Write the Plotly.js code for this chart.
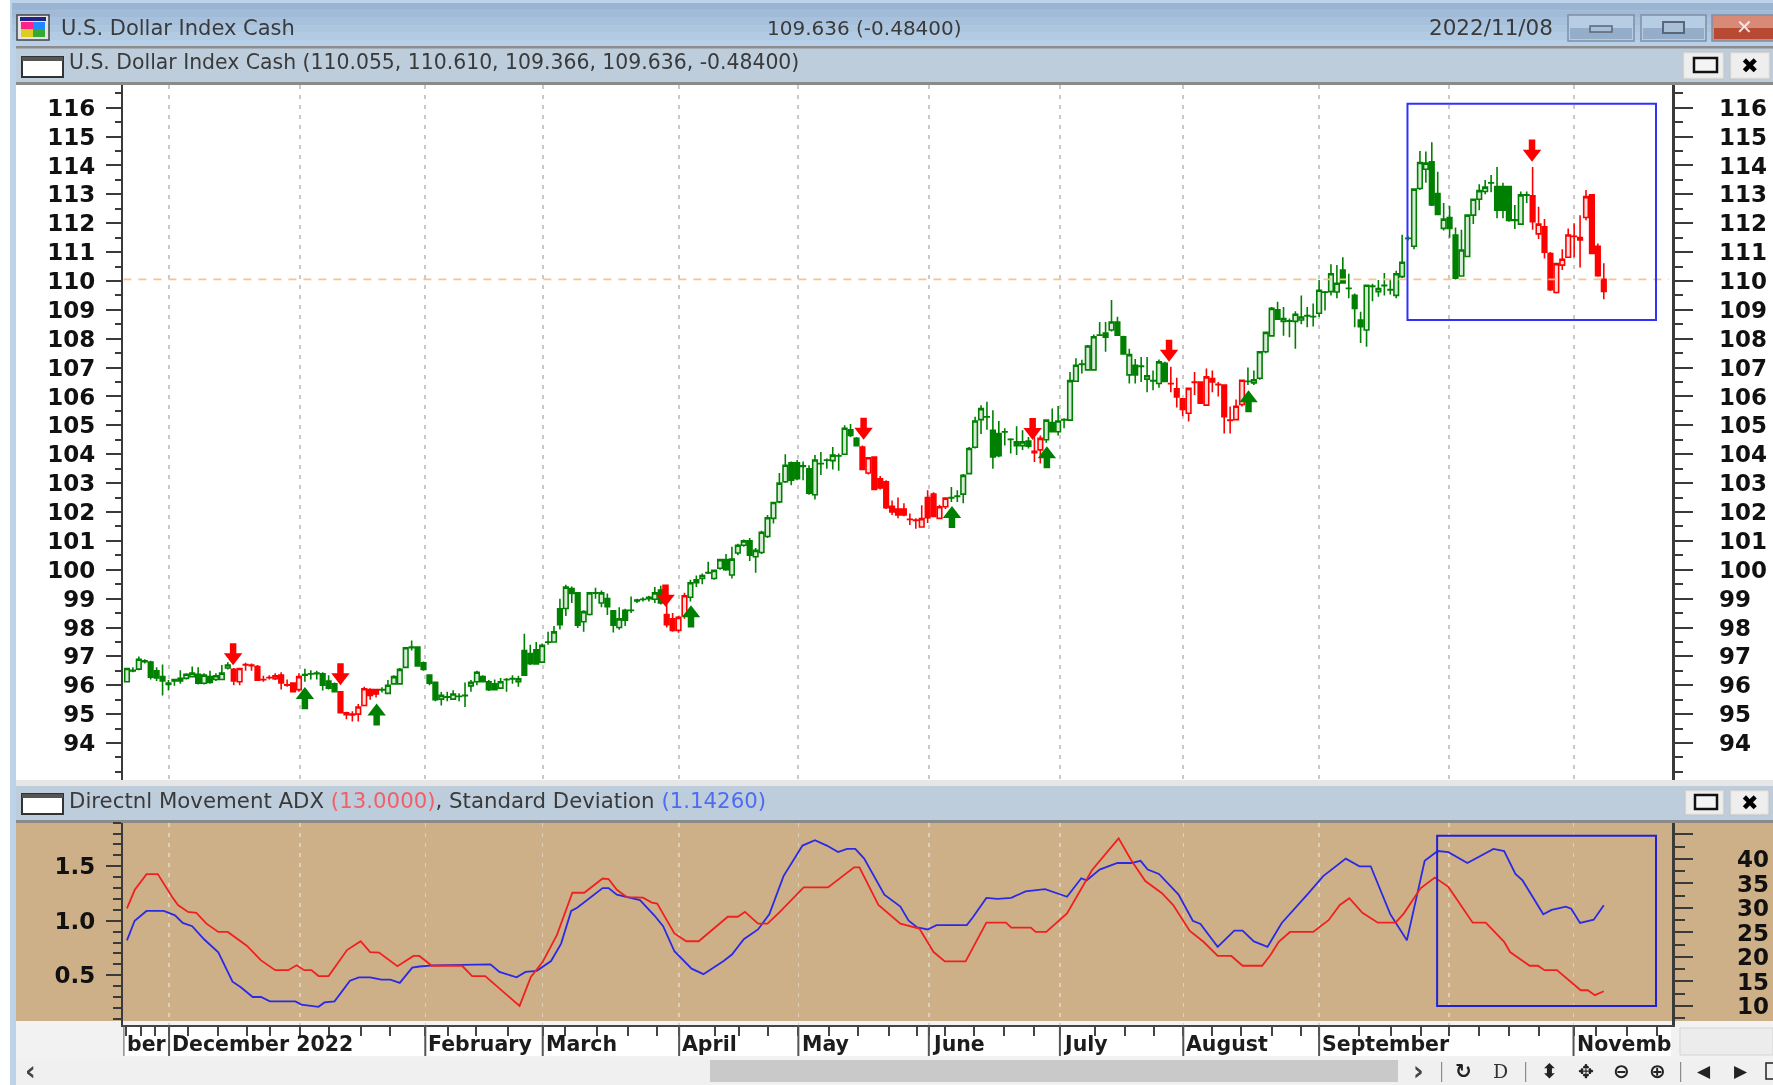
<!DOCTYPE html>
<html>
<head>
<meta charset="utf-8">
<script src="https://cdn.plot.ly/plotly-3.0.1.min.js"></script>
<style>html,body{margin:0;padding:0;background:#fff;overflow:hidden}#chart{width:1773px;height:1085px;filter:blur(0.6px)}</style>
</head>
<body>
<div id="chart"></div>
<script>
// ---- price bars, one per session ----
const opens = [
96.12,96.52,96.56,96.85,96.8,96.5,96.3,96.08,96.15,96.15,
96.24,96.3,96.38,96.07,96.3,96.2,96.2,96.6,96.55,96.12,
96.72,96.7,96.65,96.2,96.27,96.23,96.35,96.02,96.08,95.85,
96.37,96.4,96.4,96.4,96.15,96.05,95.77,95.05,95.0,95.0,
95.3,95.85,95.85,95.85,95.72,96.05,96.05,96.62,97.32,97.32,
96.78,96.35,96.1,95.52,95.6,95.52,95.62,95.65,95.98,96.12,
96.3,96.12,96.05,95.9,96.2,96.22,96.12,97.2,97.1,97.23,
96.8,97.5,97.5,98.65,98.66,99.35,99.2,98.2,98.45,99.2,
98.85,99.0,98.58,98.0,98.6,98.6,98.92,98.98,99.0,98.98,
99.3,98.45,98.3,97.9,98.4,99.05,99.65,99.7,99.9,99.7,
100.05,100.35,99.82,100.58,100.85,101.0,100.45,100.6,101.15,101.78,
102.35,103.05,103.7,103.7,103.6,103.5,102.6,103.68,103.8,103.78,
103.95,104.0,104.85,104.55,104.25,103.35,103.9,103.15,103.05,102.2,
102.1,102.1,101.75,101.72,101.48,102.5,102.62,101.78,102.18,102.5,
102.55,102.62,103.33,104.24,105.2,105.3,104.83,104.72,104.78,104.52,
104.43,104.3,104.46,104.1,104.15,104.5,105.1,104.78,105.2,105.18,
106.53,107.12,106.92,106.92,108.13,108.2,108.3,108.58,108.07,106.75,
107.08,107.05,106.6,106.55,106.45,107.15,106.45,106.27,105.92,105.42,
106.5,106.5,105.7,106.62,106.42,106.4,105.18,105.2,105.72,106.53,
106.47,106.63,107.55,108.1,109.0,108.6,108.62,108.6,108.65,108.8,
108.77,108.88,109.62,109.63,109.62,110.38,109.75,109.5,108.65,108.3,
109.82,109.63,109.85,109.7,109.5,110.15,111.48,111.2,113.2,113.87,
114.13,113.03,111.82,112.2,111.59,110.17,110.85,112.28,112.83,113.1,
113.4,113.27,113.27,113.27,112.1,111.97,112.98,112.95,111.63,111.88,
110.95,109.6,110.55,110.82,111.55,111.5,112.2,112.98,111.2,110.055];
const highs = [
96.6,96.62,97.0,96.9,96.85,96.62,96.72,96.18,96.22,96.52,
96.42,96.65,96.62,96.42,96.5,96.42,96.7,96.8,96.6,96.61,
96.78,96.75,96.7,96.33,96.35,96.42,96.45,96.2,96.1,96.42,
96.57,96.52,96.5,96.45,96.35,96.1,95.8,95.08,95.1,95.35,
95.95,95.9,95.88,95.93,96.18,96.35,96.6,97.32,97.55,97.35,
96.82,96.38,96.12,95.77,95.78,95.83,95.72,96.1,96.18,96.5,
96.35,96.18,96.2,96.25,96.25,96.35,96.33,97.78,97.4,97.5,
97.45,97.85,98.05,99.0,99.48,99.42,99.22,98.6,99.2,99.38,
99.28,99.18,98.6,98.7,98.65,99.07,99.0,99.05,99.1,99.4,
99.45,99.0,98.5,98.4,99.2,99.65,99.8,99.87,100.28,100.0,
100.37,100.55,100.8,100.9,101.05,101.1,100.75,101.35,101.9,102.35,
103.35,104.0,103.75,103.8,103.75,103.62,103.97,104.08,103.85,104.25,
104.03,105.0,105.05,104.6,104.3,103.9,103.92,103.25,103.1,102.4,
102.5,102.3,101.95,101.78,102.23,102.75,102.68,102.25,102.5,102.87,
102.75,103.32,104.25,105.3,105.7,105.82,105.52,105.15,104.9,104.55,
104.97,104.83,104.6,104.6,104.65,105.2,105.58,105.67,105.25,106.85,
107.32,107.27,107.78,108.15,108.58,108.58,109.34,108.76,108.1,107.65,
107.3,107.37,107.37,106.9,107.28,107.2,107.03,106.65,105.95,106.3,
106.85,106.52,106.97,106.9,106.5,106.42,105.65,105.9,106.57,107.0,
106.9,107.55,108.25,109.1,109.28,109.1,108.7,108.95,109.5,109.1,
109.22,110.03,109.65,110.58,110.55,110.82,110.25,109.57,108.93,109.87,
109.9,110.03,110.28,110.05,110.35,111.6,111.55,113.2,114.5,114.48,
114.8,113.78,112.7,112.6,111.85,111.77,112.3,112.85,113.35,113.5,
113.67,113.95,113.4,113.3,112.63,113.1,113.1,113.95,112.57,112.15,
111.0,110.6,111.1,111.82,112.0,112.28,113.15,113.0,111.3,110.61];
const lows = [
96.1,96.45,96.52,96.75,96.2,96.15,95.65,95.82,95.98,96.05,
96.2,96.27,96.03,96.03,96.05,96.15,96.18,96.55,96.0,96.0,
96.5,96.5,96.15,96.12,96.2,96.18,95.85,95.95,95.75,95.78,
96.12,96.2,96.2,95.82,95.85,95.75,95.02,94.82,94.75,94.75,
95.28,95.5,95.58,95.75,95.7,96.03,96.03,96.6,97.2,96.65,
96.5,96.0,95.45,95.3,95.45,95.5,95.45,95.25,95.78,96.0,
96.1,95.8,95.83,95.88,95.78,96.05,95.95,96.33,96.7,96.72,
96.78,97.4,97.48,97.93,98.4,98.85,97.98,97.85,98.42,99.0,
98.7,98.43,97.83,97.92,98.05,98.5,98.85,98.9,98.9,98.85,
98.8,98.0,97.85,97.82,98.3,98.9,99.4,99.5,99.85,99.65,
100.0,99.97,99.7,100.5,100.8,100.3,99.9,100.55,101.1,101.6,
102.3,103.0,102.93,103.1,103.1,102.6,102.43,103.28,103.5,103.47,
103.43,103.98,104.6,104.27,103.45,103.3,102.75,102.78,102.1,101.9,
101.78,101.85,101.55,101.42,101.46,101.62,101.82,101.75,102.1,102.35,
102.35,102.3,103.3,104.2,104.7,104.85,103.5,103.9,104.3,104.03,
103.97,104.15,104.2,103.73,103.68,104.4,104.75,104.65,104.9,105.15,
106.5,106.8,106.9,106.9,108.1,107.55,108.25,108.1,107.45,106.45,
106.45,106.5,106.15,106.22,106.3,106.5,106.15,105.62,105.32,105.13,
106.05,105.75,105.68,106.15,106.0,104.72,104.72,105.18,105.65,106.4,
106.4,106.58,107.5,108.08,108.65,108.1,108.05,107.65,108.5,108.4,
108.42,108.75,108.98,109.5,109.4,109.9,109.4,108.4,107.85,107.72,
109.3,109.45,109.5,109.53,109.4,110.1,111.4,111.1,113.15,113.4,
112.6,112.28,111.75,111.5,110.05,110.15,110.85,111.97,112.45,113.0,
113.07,112.17,112.17,112.05,111.8,111.95,112.7,111.77,111.45,110.78,
109.65,109.57,110.38,110.8,110.82,110.47,112.1,110.93,110.15,109.366];
const closes = [
96.58,96.5,96.9,96.82,96.28,96.25,96.15,96.03,96.2,96.24,
96.38,96.42,96.07,96.35,96.1,96.33,96.42,96.7,96.15,96.58,
96.7,96.68,96.18,96.19,96.26,96.33,96.08,96.0,95.78,96.3,
96.35,96.39,96.42,96.0,95.9,95.78,95.05,94.98,94.97,95.25,
95.88,95.65,95.7,95.84,96.0,96.3,96.55,97.3,97.3,96.67,
96.55,96.07,95.5,95.65,95.59,95.7,95.61,95.64,96.1,96.45,
96.12,95.85,95.85,96.12,96.19,96.23,96.22,96.35,96.75,96.74,
97.38,97.49,97.85,98.1,99.4,99.18,98.08,98.55,99.2,99.19,
99.2,98.72,98.08,98.3,98.25,98.59,98.95,98.97,99.05,99.2,
98.85,98.1,97.9,98.35,99.1,99.55,99.55,99.8,99.89,99.98,
100.35,100.0,100.37,100.85,101.0,100.5,100.67,101.3,101.8,102.33,
103.0,103.62,103.1,103.15,103.58,102.65,103.8,103.67,103.79,103.97,
103.94,104.9,104.65,104.3,103.47,103.88,102.78,102.83,102.15,102.0,
101.9,101.9,101.74,101.71,101.77,101.8,101.85,102.18,102.48,102.49,
102.54,103.27,104.2,105.15,105.58,105.29,103.91,103.95,104.77,104.51,
104.3,104.43,104.28,104.05,104.55,105.18,104.78,105.15,105.19,106.55,
107.08,107.11,107.75,108.07,108.12,108.05,108.58,108.12,107.47,107.45,
106.75,107.04,106.72,106.54,107.2,106.52,106.44,105.98,105.55,106.28,
106.49,105.77,106.68,106.5,106.41,105.3,105.17,105.66,106.56,106.52,
106.58,107.55,108.22,109.05,108.68,108.7,108.61,108.85,108.75,108.79,
108.76,109.68,109.61,110.25,109.92,109.93,109.74,109.05,108.42,109.85,
109.81,109.74,109.84,109.69,110.25,110.65,111.47,113.18,114.1,114.08,
112.63,112.3,112.14,111.82,110.1,111.07,112.28,112.83,113.13,113.25,
113.39,112.45,112.45,112.1,112.12,112.98,112.97,112.05,111.97,111.0,
109.7,110.6,110.75,111.59,111.54,111.42,112.92,110.95,110.18,109.636];
const redFrom = [18,36,91,124,153,176,237];
const redTo   = [29,42,94,138,154,188,249];

// ---- signal arrows: session and price of the arrow tip ----
const sellX = [17.9,36,90.8,124.2,152.7,175.7,236.9];
const sellY = [96.69,96.0,98.72,104.5,104.49,107.2,114.13];
const buyX  = [30,42.1,95.1,139.1,155.1,189.1];
const buyY  = [95.94,95.37,98.77,102.21,104.28,106.22];

// ---- lower panel ----
const adxX = [0,1.3,3.3,5.2,7.6,8.6,10.3,11.7,13.4,15.4,17,20.2,22.6,25,27.2,28.6,29.9,31.1,32.3,34,37.1,39.4,41,42.5,45.6,48.3,49.3,51.4,56.5,58.2,60.4,62.8,66.2,68.1,70.1,72.5,75.1,77.1,80.2,81.2,82.6,84.3,87,88.5,89.4,92.3,94.3,96.4,101.3,103,104.2,106.4,108,110,111.7,114.1,118.2,122.6,123.5,126.7,130.4,133.6,136,137.9,141.4,144.9,148.2,149.1,152.4,153.2,155,158.5,162.7,167.2,169.3,171.7,174.5,176.4,179.2,181.5,183.9,186.2,188.1,191.4,192.8,194.2,196.1,200,202.6,204.5,206.1,208.3,210.9,213.9,215.3,218.1,220.5,222.8,226.9,229.1,232.2,233.2,236.5,237.9,239,241.1,245.1,246.3,247.5,249];
const adxY = [29.9,33.65,36.9,36.9,32.3,30.6,29.2,29,26.8,25.1,25.1,22.3,19.3,17.3,17.3,18.3,17.3,17.3,16.1,16.1,21.4,23.2,21,20.9,18.1,20.2,20.2,18.2,18.2,16.1,16.1,13.5,10,15.9,19,24.5,33.1,33.1,36,35.9,33.7,32.2,32.1,31.1,30.9,24.8,23.2,23.2,28.2,28.2,29.2,26.8,26.8,29.1,31.3,34.2,34.2,38.3,38.3,30.6,26.8,25.8,21,19.1,19.1,27,27,26,26,25.1,25.1,28.9,37.7,44.2,39.8,35.5,33,30.6,25.3,23.1,20.2,20.2,18.2,18.2,20.4,23.1,25.1,25.1,27.5,30.6,32,29,27,27,28.9,34,36.2,34.3,27,27,23.1,21,18.2,18.2,17.3,17.3,13.2,13.2,12.2,13];
const sdX = [0,1.3,3.3,6.2,8.1,9.4,11,13,15.4,17,17.8,19.2,21.2,22.6,24.1,28.4,29.4,32.3,33.3,35,37.6,39.1,41,42.9,44.4,46,48.1,49.3,51.7,61.3,62.8,65.7,67.2,69.1,71.5,73.2,74.9,75.9,80.2,81.2,82.6,86.5,88.9,90.4,92.3,95.2,97.2,100.6,102,104,106.4,108.3,110.7,113.9,116,118,119.9,121.4,122.8,124.3,127.7,130.4,131.8,133.2,135,136.5,141.6,142.6,144.9,146.8,149.1,151.5,154.8,158.5,160.9,161.8,164,167,169.3,170.9,172.1,174,177.3,179.7,181,183.9,186.7,188.1,190,192.3,194.7,199,201.7,205.5,207.8,209.7,213,215.8,218.8,221,222.8,226,230.4,232.2,234.1,235.3,238.8,240.2,242.6,243.5,245,247.3,249];
const sdY = [0.82,1,1.09,1.09,1.05,0.98,0.95,0.83,0.71,0.54,0.44,0.39,0.3,0.3,0.26,0.26,0.23,0.21,0.25,0.26,0.45,0.48,0.48,0.46,0.46,0.43,0.57,0.58,0.59,0.6,0.53,0.48,0.53,0.54,0.63,0.79,1.09,1.12,1.3,1.3,1.24,1.19,1.05,0.95,0.72,0.56,0.51,0.63,0.69,0.83,0.92,1.06,1.41,1.69,1.74,1.69,1.63,1.66,1.66,1.57,1.24,1.13,1,0.94,0.92,0.96,0.96,1.03,1.21,1.2,1.21,1.27,1.29,1.22,1.39,1.37,1.47,1.53,1.53,1.55,1.47,1.43,1.24,1,0.97,0.76,0.91,0.91,0.81,0.76,0.98,1.24,1.41,1.57,1.5,1.5,1.06,0.82,1.55,1.64,1.63,1.53,1.66,1.64,1.43,1.37,1.06,1.1,1.13,1.11,0.98,1.01,1.1426];

// ---- axes ----
const gridAt = [7.1,29.2,50.3,70.1,93.1,113.2,135.2,157.3,178.1,201,222.9,243.9];
const weekTicks = [-0.1,2.3,4.7,10.3,15.4,20.2,24.1,34,39.4,44.4,54.1,58.9,64.3,73.9,79.3,84.4,89.4,99.1,103.2,108,118.3,123.3,128.4,133.2,137.9,142.8,147.9,152.9,163.2,168.2,173.1,182.9,187.9,193,198,207.8,213.2,218.1,228,233,238,247.7,252.9,258];
const monthAt = [-0.6,7.1,50.3,70.1,93.1,113.2,135.2,157.3,178.1,201,243.9];
const monthNames = ['ber','December 2022','February','March','April','May','June','July','August','September','Novemb'];
const priceTicks = [94,95,96,97,98,99,100,101,102,103,104,105,106,107,108,109,110,111,112,113,114,115,116];
const sdTicks = [0.5,1.0,1.5];
const sdLabels = ['0.5','1.0','1.5'];
const adxTicks = [10,15,20,25,30,35,40,45];
const adxLabels = ['10','15','20','25','30','35','40',''];

const W=1773,H=1085;
const GREEN='#008000', RED='#ff0000', BLUE='#2626e8', INK='#222222';
const UI='"DejaVu Sans",sans-serif';

// bars by regime
const isRed=i=>redFrom.some((a,k)=>i>=a&&i<=redTo[k]);
const idx=opens.map((_,i)=>i);
function candle(filter,col,hollow){
  const ii=idx.filter(filter);
  return {type:'candlestick',x:ii,open:ii.map(i=>opens[i]),high:ii.map(i=>highs[i]),low:ii.map(i=>lows[i]),close:ii.map(i=>closes[i]),
    xaxis:'x',yaxis:'y',whiskerwidth:0,hoverinfo:'skip',showlegend:false,
    increasing:{line:{color:col,width:1.6},fillcolor:hollow},
    decreasing:{line:{color:col,width:1.6},fillcolor:col}};
}
const traces=[
  candle(i=>!isRed(i),GREEN,'#d9ead9'),
  candle(isRed,RED,'#ffe0e0'),
  {type:'scatter',mode:'lines',x:[-0.6,260],y:[opens[249],opens[249]],xaxis:'x',yaxis:'y2',line:{color:'#f7c48e',width:1.6,dash:'8px,7px'},hoverinfo:'skip',showlegend:false},
  // arrows: stem + head, tip at the stored price
  {type:'scatter',mode:'markers',x:sellX,y:sellY.map(v=>v+0.5),xaxis:'x',yaxis:'y',marker:{symbol:'line-ns',size:11,line:{color:RED,width:6.5}},hoverinfo:'skip',showlegend:false},
  {type:'scatter',mode:'markers',x:sellX,y:sellY.map(v=>v+0.277),xaxis:'x',yaxis:'y',marker:{symbol:'triangle-down',size:16,color:RED,line:{width:0}},hoverinfo:'skip',showlegend:false},
  {type:'scatter',mode:'markers',x:buyX,y:buyY.map(v=>v-0.5),xaxis:'x',yaxis:'y',marker:{symbol:'line-ns',size:11,line:{color:GREEN,width:6.5}},hoverinfo:'skip',showlegend:false},
  {type:'scatter',mode:'markers',x:buyX,y:buyY.map(v=>v-0.277),xaxis:'x',yaxis:'y',marker:{symbol:'triangle-up',size:16,color:GREEN,line:{width:0}},hoverinfo:'skip',showlegend:false},
  {type:'scatter',mode:'lines',x:adxX,y:adxY,xaxis:'x2',yaxis:'y4',line:{color:'#f02020',width:1.8},hoverinfo:'skip',showlegend:false},
  {type:'scatter',mode:'lines',x:sdX,y:sdY,xaxis:'x2',yaxis:'y3',line:{color:'#2a2ae6',width:1.8},hoverinfo:'skip',showlegend:false}
];

// window furniture helpers (pixels -> paper)
const px=x=>x/W, py=y=>1-y/H;
const shapes=[];
function rect(x0,y0,x1,y1,fill,line,lw,layer){
  shapes.push({type:'rect',xref:'paper',yref:'paper',x0:px(x0),x1:px(x1),y0:py(y1),y1:py(y0),fillcolor:fill,layer:layer||'below',
    line:line?{color:line,width:lw||1}:{width:0}});
}
const notes=[];
function txt(x,y,s,size,color,opt){
  opt=opt||{};
  notes.push({xref:'paper',yref:'paper',x:px(x),y:py(y),text:s,showarrow:false,xanchor:opt.a||'left',yanchor:'middle',
    font:{family:opt.f||UI,size:size,color:color||'#3a3a3a',weight:opt.w||400}});
}
function button(x0,y0,x1,y1,glyph){
  rect(x0,y0,x1,y1,'#e8e8e8','#c4c4c4',1);
  rect(x0+2,y0+2,x1-2,y1-2,'#eeeeee');
  glyph();
}
function winIcon(x,y){
  rect(x,y,x+41,y+20,'#ffffff','#333333',2);
  rect(x,y,x+41,y+4,'#555555');
}

// outer frame
rect(10,0,1773,1085,'#bcd3ea');
const bar=['#9ab4d2','#a0bad7','#a7c0dc','#adc6e0','#b2cbe4','#b7cfe7'];
bar.forEach((c,k)=>rect(12,3+k*7.4,1773,3+(k+1)*7.4,c));
// panel strips
rect(16,47,1773,85,'#bdcddc');
rect(16,46,1773,48.5,'#8c8c8c');
rect(16,82,1773,85,'#8a8a8a');
rect(16,85,1773,780,'#ffffff');
rect(16,780,1773,786,'#e6e6e6');
rect(16,786,1773,820,'#bdcddc');
rect(16,820,1773,823,'#8a8a8a');
rect(16,823,1773,1021,'#ceb088');
rect(16,1021,1773,1060,'#f2f2f2');
rect(123,1025,1671,1056,'#ffffff');
rect(1680,1028,1773,1055,'#ececec','#d4d4d4',1);
rect(16,1060,1773,1085,'#f0f0f0');
rect(710,1060,1398,1082,'#c9c9c9');
// title bar buttons
function capsule(x0,x1,c0,c1){rect(x0,15,x1,41,c0,'#7f8fa3',1.5);rect(x0+2,28,x1-2,39,c1);}
capsule(1568,1634,'#b7cde4','#94aeca');
capsule(1641,1706,'#b7cde4','#94aeca');
capsule(1712,1775,'#d98a76','#b84a33');
rect(1590,26,1612,32,'#a9bfd6','#58677a',1.5);
rect(1663,22,1684,33,'#a9bfd6','#58677a',2);
txt(1744,27,'✕',20,'#e8e8e8',{a:'center',w:700});
// app icon
rect(17,15,49,40,'#e4e4e4','#444444',1.5);
rect(20,17,46,21,'#222288');
rect(21,22,33,29,'#ff2288');rect(33,22,45,29,'#2288ff');
rect(21,29,33,37,'#ddcc22');rect(33,29,45,37,'#33aa33');
// panel buttons
button(1683,52,1724,79,()=>rect(1694,58,1717,72,'#f4f4f4','#111111',2.5));
button(1730,52,1770,79,()=>txt(1750,66,'✖',21,'#000000',{a:'center'}));
button(1685,790,1724,815,()=>rect(1695,795,1717,809,'#f4f4f4','#111111',2.5));
button(1730,790,1769,815,()=>txt(1750,803,'✖',21,'#000000',{a:'center'}));
winIcon(22,57); winIcon(22,794);
// titles
txt(59,28,'U.S. Dollar Index Cash',21,'#3a3a3a');
txt(765,28,'109.636 (-0.48400)',20,'#3a3a3a');
txt(1427,28,'2022/11/08',21.5,'#3a3a3a');
txt(67,62,'U.S. Dollar Index Cash (110.055, 110.610, 109.366, 109.636, -0.48400)',20.4,'#3a3a3a');
txt(67,800,'Directnl Movement ADX <span style="color:#f0606a">(13.0000)</span>, Standard Deviation <span style="color:#4f6cf0">(1.14260)</span>',21.3,'#3a3a3a');
// scrollbar and toolbar glyphs
txt(30,1071,'‹',26,'#444444',{a:'center',w:700});
txt(1418,1071,'›',26,'#444444',{a:'center',w:700});
[1441,1525,1680].forEach(x=>rect(x,1062,x+1.2,1082,'#8a8a8a'));
[[1463,'↻',20],[1549,'⬍',20],[1586,'✥',19],[1621,'⊖',20],[1657,'⊕',20],[1704,'◀',17],[1741,'▶',17]].forEach(g=>txt(g[0],1071,g[1],g[2],'#222222',{a:'center',w:700}));
txt(1500,1071,'D',19,'#333333',{a:'center',f:'"DejaVu Serif",serif'});
rect(1766,1063,1776,1079,'#f0f0f0','#222222',1.5);

// month names and their long separators, placed on the bar scale
monthNames.forEach((m,k)=>{
  notes.push({xref:'x2',yref:'paper',x:monthAt[k]+0.2,y:py(1044),text:m,showarrow:false,xanchor:'left',yanchor:'middle',
    font:{family:UI,size:20.5,color:'#1c1c1c',weight:700}});
  shapes.push({type:'line',xref:'x2',yref:'paper',x0:monthAt[k],x1:monthAt[k],y0:py(1056),y1:py(1025),line:{color:'#555555',width:2},layer:'above'});
});
// boxes
shapes.push({type:'rect',xref:'x',yref:'y',x0:215.9,x1:257.8,y0:108.65,y1:116.14,line:{color:'#3030ff',width:2},layer:'above'});
shapes.push({type:'rect',xref:'x2',yref:'y4',x0:220.9,x1:257.8,y0:10,y1:44.76,line:{color:'#2020d8',width:2},layer:'above'});

const xDom=[123.4/W,1672/W];
const tickFont={family:UI,size:23,color:'#111111',weight:700};
const axBase={showgrid:false,zeroline:false,showline:true,linecolor:'#3a3a3a',linewidth:2.5,tickcolor:'#3a3a3a',tickwidth:2,ticks:'outside',tickfont:tickFont,fixedrange:true};
const layout={
  width:W,height:H,autosize:false,margin:{l:0,r:0,t:0,b:0,pad:0},
  paper_bgcolor:'#ffffff',plot_bgcolor:'rgba(0,0,0,0)',showlegend:false,hovermode:false,
  xaxis:{domain:xDom,range:[-0.6,260.5],anchor:'y',tickmode:'array',tickvals:gridAt,ticktext:gridAt.map(()=>''),ticks:'',showline:false,showgrid:true,gridcolor:'#c9c9c9',gridwidth:2,griddash:'4px,6px',zeroline:false,rangeslider:{visible:false},fixedrange:true},
  xaxis2:{domain:xDom,range:[-0.6,260.5],anchor:'y3',tickmode:'array',tickvals:gridAt,ticktext:gridAt.map(()=>''),ticks:'outside',ticklen:9,tickwidth:2,tickcolor:'#444444',showline:true,linecolor:'#444444',linewidth:2,showgrid:true,gridcolor:'#dcd0ba',gridwidth:1.5,griddash:'4px,6px',zeroline:false,
    minor:{tickmode:'array',tickvals:weekTicks,ticks:'outside',ticklen:9,tickwidth:2,tickcolor:'#444444',showgrid:false},fixedrange:true},
  yaxis:Object.assign({},axBase,{domain:[py(780),py(85)],range:[92.72,116.786],anchor:'x',side:'left',tickmode:'array',tickvals:priceTicks,ticktext:priceTicks.map(String),ticklen:15,ticklabelstandoff:6,
    minor:{dtick:0.5,ticks:'outside',ticklen:6,tickwidth:2,tickcolor:'#3a3a3a',showgrid:false}}),
  yaxis2:Object.assign({},axBase,{domain:[py(780),py(85)],range:[92.72,116.786],anchor:'x',side:'right',overlaying:'y',tickmode:'array',tickvals:priceTicks,ticktext:priceTicks.map(String),ticklen:18,ticklabelstandoff:22,
    minor:{dtick:0.5,ticks:'outside',ticklen:8,tickwidth:2,tickcolor:'#3a3a3a',showgrid:false}}),
  yaxis3:Object.assign({},axBase,{domain:[py(1025),py(822.7)],range:[0.043,1.9],anchor:'x2',side:'left',tickmode:'array',tickvals:sdTicks,ticktext:sdLabels,ticklen:15,ticklabelstandoff:6,
    minor:{dtick:0.1,ticks:'outside',ticklen:8,tickwidth:2,tickcolor:'#3a3a3a',showgrid:false}}),
  yaxis4:Object.assign({},axBase,{domain:[py(1025),py(822.7)],range:[6.11,47.4],anchor:'x2',side:'right',overlaying:'y3',tickmode:'array',tickvals:adxTicks,ticktext:adxLabels,ticklen:18,ticklabelstandoff:40,
    minor:{dtick:2.5,ticks:'outside',ticklen:10,tickwidth:2,tickcolor:'#3a3a3a',showgrid:false}}),
  boxgap:0.12,boxgroupgap:0.12,
  shapes:shapes,annotations:notes
};
Plotly.newPlot('chart',traces,layout,{displayModeBar:false,staticPlot:true});
</script>
</body>
</html>
